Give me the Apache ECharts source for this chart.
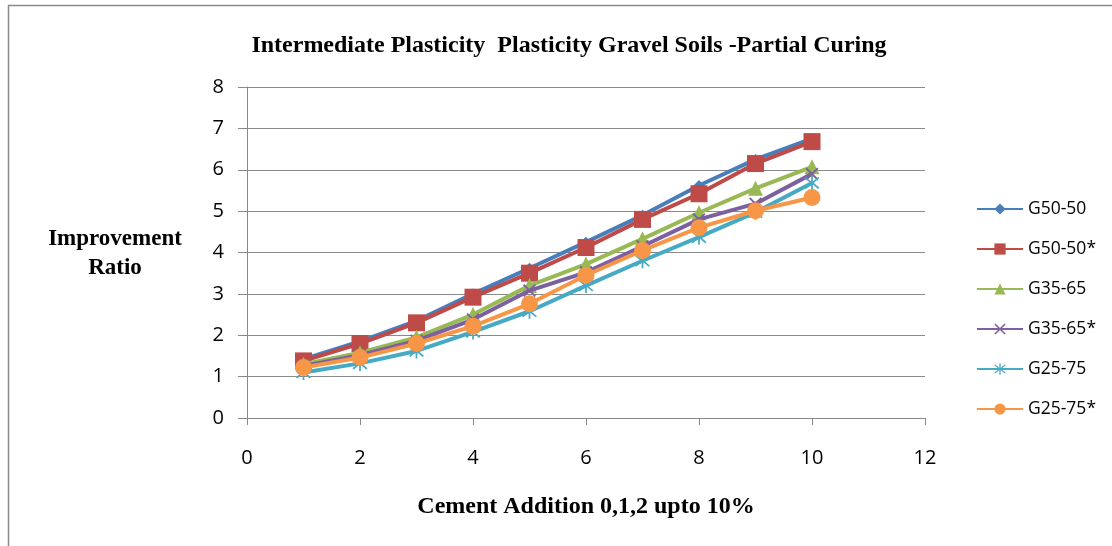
<!DOCTYPE html>
<html><head><meta charset="utf-8">
<script src="https://cdn.jsdelivr.net/npm/echarts@6/dist/echarts.min.js"></script>
<style>html,body{margin:0;padding:0;background:#fff}#c{width:1112px;height:546px}</style>
</head><body><div id="c"></div>
<script>
const cement = [1,2,3,4,5,6,7,8,9,10];
const seriesNames = ['G50-50','G50-50*','G35-65','G35-65*','G25-75','G25-75*'];
const g50_50  = [1.42,1.85,2.35,3.0,3.62,4.25,4.9,5.62,6.25,6.75];
const g50_50s = [1.38,1.8,2.3,2.92,3.5,4.12,4.8,5.42,6.15,6.68];
const g35_65  = [1.3,1.58,1.95,2.5,3.2,3.72,4.33,4.96,5.55,6.07];
const g35_65s = [1.26,1.52,1.87,2.38,3.08,3.52,4.15,4.8,5.18,5.9];
const g25_75  = [1.1,1.32,1.62,2.08,2.58,3.2,3.8,4.37,4.97,5.68];
const g25_75s = [1.22,1.46,1.8,2.22,2.76,3.45,4.05,4.6,5.01,5.33];
const xTicks = [0,2,4,6,8,10,12];
const yTicks = [0,1,2,3,4,5,6,7,8];

const colors = ['#4A7EBB','#BE4B48','#98B954','#7D60A0','#46AAC5','#F79646'];
const crossPath = 'path://M2,0 L10,8 L18,0 L20,2 L12,10 L20,18 L18,20 L10,12 L2,20 L0,18 L8,10 L0,2 Z';
const starPath = 'path://M9,0 L11,0 L11,8 L17,2 L18.5,3.5 L12.5,9.5 L12.5,10.5 L18.5,16.5 L17,18 L11,12 L11,20 L9,20 L9,12 L3,18 L1.5,16.5 L7.5,10.5 L7.5,9.5 L1.5,3.5 L3,2 L9,8 Z';
const symbols = ['diamond','rect','triangle',crossPath,starPath,'circle'];
const sizes = [11,17,15,13,15,17];
const datasets = [g50_50,g50_50s,g35_65,g35_65s,g25_75,g25_75s];

const serif = '"Liberation Serif","DejaVu Serif",serif';
const sans = '"Open Sans","Noto Sans",sans-serif';

const chart = echarts.init(document.getElementById('c'));
chart.setOption({
  animation:false,
  backgroundColor:'#fff',
  title:{text:'Intermediate Plasticity  Plasticity Gravel Soils -Partial Curing',left:564,textAlign:'center',top:29,
    textStyle:{fontFamily:serif,fontWeight:'bold',fontSize:24,color:'#000'}},
  grid:{left:247,top:87,width:678,height:331},
  legend:{orient:'vertical',left:971,top:195,itemWidth:46,itemHeight:14,itemGap:22,
    textStyle:{fontFamily:sans,fontSize:17.5,color:'#000'},
    lineStyle:{width:2},
    data:seriesNames},
  xAxis:{type:'value',min:0,max:12,interval:2,
    axisLine:{lineStyle:{color:'#888',width:1}},
    axisTick:{show:true,inside:false,length:7,lineStyle:{color:'#888'}},
    splitLine:{show:false},
    axisLabel:{fontFamily:sans,fontSize:20,color:'#000',margin:30,
      formatter:v=>xTicks.includes(v)?String(v):''},
    name:'Cement Addition 0,1,2 upto 10%',nameLocation:'middle',nameGap:77,
    nameTextStyle:{fontFamily:serif,fontWeight:'bold',fontSize:24,color:'#000'}},
  yAxis:{type:'value',min:0,max:8,interval:1,
    axisLine:{show:true,lineStyle:{color:'#888',width:1}},
    axisTick:{show:true,inside:false,length:9,lineStyle:{color:'#888'}},
    splitLine:{show:true,lineStyle:{color:'#8a8a8a',width:1}},
    axisLabel:{fontFamily:sans,fontSize:20,color:'#000',margin:23,
      formatter:v=>yTicks.includes(v)?String(v):''}},
  graphic:[
    {type:'rect',shape:{x:8.5,y:5.5,width:1110,height:560},style:{fill:'none',stroke:'#8a8a8a',lineWidth:1.5},silent:true},
    {type:'text',x:115,y:254,style:{text:'Improvement\nRatio',fontFamily:serif,fontWeight:'bold',fontSize:23,fill:'#000',align:'center',verticalAlign:'middle',lineHeight:29},silent:true}
  ],
  series: seriesNames.map((n,i)=>({
    name:n,type:'line',
    data:cement.map((x,j)=>[x,datasets[i][j]]),
    symbol:symbols[i],symbolSize:sizes[i],showSymbol:true,
    lineStyle:{color:colors[i],width:4},
    itemStyle:{color:colors[i]},
    z:2+i
  }))
});
</script></body></html>
